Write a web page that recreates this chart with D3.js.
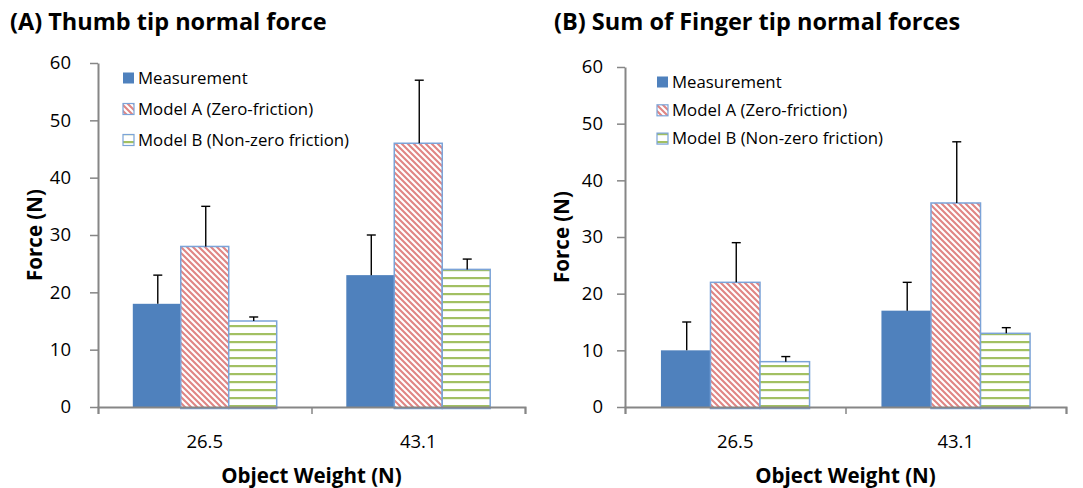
<!DOCTYPE html>
<html><head><meta charset="utf-8">
<script src="https://cdn.jsdelivr.net/npm/d3@7"></script>
<style>
html,body{margin:0;padding:0;background:#fff;}
svg{display:block;font-family:"Open Sans", sans-serif;}
</style></head>
<body>
<svg id="chart" width="1083" height="488"></svg>
<script>
const categories = ["26.5", "43.1"];
const seriesNames = ["Measurement", "Model A (Zero-friction)", "Model B (Non-zero friction)"];
const yTicks = [0, 10, 20, 30, 40, 50, 60];

const thumbMeasurement = [18, 23];
const thumbModelA = [28, 46];
const thumbModelB = [15, 24];
const thumbErrMeasurement = [5, 7];
const thumbErrModelA = [7, 11];
const thumbErrModelB = [0.7, 1.8];

const fingerMeasurement = [10, 17];
const fingerModelA = [22, 36];
const fingerModelB = [8, 13];
const fingerErrMeasurement = [5, 5];
const fingerErrModelA = [7, 10.8];
const fingerErrModelB = [0.9, 1];

const FONT = "'Open Sans', sans-serif";
const svg = d3.select("#chart");
const defs = svg.append("defs");
// diagonal red stripes
const pA = defs.append("pattern").attr("id","patA").attr("patternUnits","userSpaceOnUse")
  .attr("width",6).attr("height",6);
pA.append("rect").attr("width",6).attr("height",6).attr("fill","#fff");
pA.append("path").attr("d","M0,0L6,6M-1,5L1,7M5,-1L7,1")
  .attr("stroke","#E08584").attr("stroke-width",2.1);
// horizontal green stripes
const pB = defs.append("pattern").attr("id","patB").attr("patternUnits","userSpaceOnUse")
  .attr("width",8).attr("height",8);
pB.append("rect").attr("width",8).attr("height",8).attr("fill","#fff");
pB.append("rect").attr("y",5).attr("width",8).attr("height",2.2).attr("fill","#A2C062");

const fills = ["#4F81BD", "url(#patA)", "url(#patB)"];
const strokes = ["none", "#7BA3D8", "#7BA3D8"];

function panel(cfg) {
  const g = svg.append("g");
  const x = d3.scaleBand().domain(categories).range([cfg.x0, cfg.x1]).paddingInner(0.326).paddingOuter(0.163);
  const xs = d3.scaleBand().domain(d3.range(3)).range([0, x.bandwidth()]).padding(0);
  const y = d3.scaleLinear().domain([0, 60]).range([cfg.yBottom, cfg.yTop]);
  const series = [cfg.m, cfg.a, cfg.b];
  const errs = [cfg.em, cfg.ea, cfg.eb];

  // title
  g.append("text").attr("x", cfg.titleX).attr("y", 29.5).attr("font-weight", "bold")
    .attr("font-size", 23.5).attr("fill", "#000").text(cfg.title);

  // bars
  series.forEach((vals, si) => {
    g.selectAll(null).data(vals).enter().append("rect")
      .attr("x", (d, i) => x(categories[i]) + xs(si))
      .attr("y", d => y(d))
      .attr("width", xs.bandwidth())
      .attr("height", d => y(0) - y(d) + (si ? 1.5 : 0))
      .attr("fill", fills[si])
      .attr("stroke", strokes[si])
      .attr("stroke-width", si ? 1.5 : 0);
  });

  // error bars
  series.forEach((vals, si) => {
    vals.forEach((v, i) => {
      const cx = x(categories[i]) + xs(si) + xs.bandwidth() / 2 + 1;
      g.append("line").attr("x1", cx).attr("x2", cx).attr("y1", y(v)).attr("y2", y(v + errs[si][i]))
        .attr("stroke", "#000").attr("stroke-width", 1.4);
      g.append("line").attr("x1", cx - 4.5).attr("x2", cx + 4.5).attr("y1", y(v + errs[si][i])).attr("y2", y(v + errs[si][i]))
        .attr("stroke", "#000").attr("stroke-width", 1.4);
    });
  });

  // y axis
  const ya = g.append("g").attr("transform", `translate(${cfg.x0},0)`)
    .call(d3.axisLeft(y).tickValues(yTicks).tickSize(cfg.tick).tickPadding(cfg.pad).tickSizeOuter(0));
  ya.select(".domain").attr("stroke", "#868686").attr("stroke-width", 2);
  ya.selectAll(".tick line").attr("stroke", "#868686").attr("stroke-width", 1.5);
  ya.selectAll(".tick text").attr("font-size", 18.5).attr("fill", "#000").attr("font-family", FONT);

  // x axis with boundary ticks
  const xb = d3.scaleLinear().domain([0, categories.length]).range([cfg.x0, cfg.x1]);
  const xa = g.append("g").attr("transform", `translate(0,${cfg.yBottom})`)
    .call(d3.axisBottom(xb).tickValues(d3.range(categories.length + 1)).tickSize(7).tickFormat(""));
  xa.select(".domain").attr("stroke", "#868686").attr("stroke-width", 2);
  xa.selectAll(".tick line").attr("stroke", "#868686").attr("stroke-width", 1.5);
  categories.forEach(c => {
    g.append("text").attr("x", x(c) + x.bandwidth() / 2).attr("y", 448).attr("text-anchor", "middle")
      .attr("font-size", 18.5).attr("fill", "#000").text(c);
  });

  // axis titles
  g.append("text").attr("x", (cfg.x0 + cfg.x1) / 2).attr("y", 483).attr("text-anchor", "middle")
    .attr("font-weight", "bold").attr("font-size", 20.5).attr("fill", "#000").text("Object Weight (N)");
  g.append("text").attr("transform", `translate(${cfg.yTitleX},${(cfg.yTop + cfg.yBottom) / 2}) rotate(-90)`)
    .attr("text-anchor", "middle").attr("font-weight", "bold").attr("font-size", 20.5).attr("fill", "#000").text("Force (N)");

  // legend
  seriesNames.forEach((n, si) => {
    const ly = cfg.legY + si * cfg.legStep;
    const lg = g.append("g");
    lg.append("rect").attr("x", cfg.legX).attr("y", ly - 5.5).attr("width", 11).attr("height", 11)
      .attr("fill", fills[si]).attr("stroke", strokes[si]).attr("stroke-width", si ? 1.2 : 0);
    lg.append("text").attr("x", cfg.legX + 15).attr("y", ly).attr("dy", "0.35em")
      .attr("font-size", 16.8).attr("fill", "#000").text(n);
  });
}

panel({title: "(A) Thumb tip normal force", titleX: 10, x0: 98, x1: 525, yTop: 63, yBottom: 407,
  tick: 8, pad: 19, yTitleX: 42, legX: 123, legY: 78, legStep: 31,
  m: thumbMeasurement, a: thumbModelA, b: thumbModelB,
  em: thumbErrMeasurement, ea: thumbErrModelA, eb: thumbErrModelB});
panel({title: "(B) Sum of Finger tip normal forces", titleX: 554, x0: 625, x1: 1066, yTop: 67, yBottom: 407,
  tick: 8, pad: 14, yTitleX: 569, legX: 657, legY: 82, legStep: 28.3,
  m: fingerMeasurement, a: fingerModelA, b: fingerModelB,
  em: fingerErrMeasurement, ea: fingerErrModelA, eb: fingerErrModelB});
</script>
</body></html>
